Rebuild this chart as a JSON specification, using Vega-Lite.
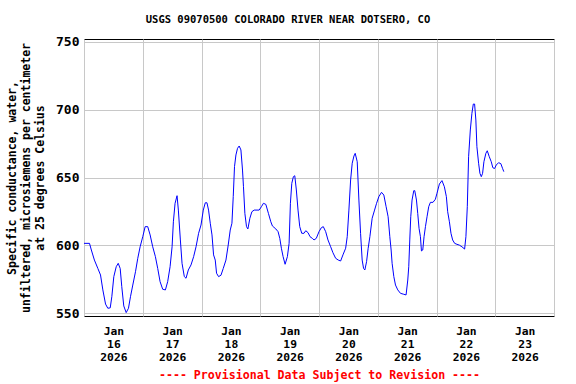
{
  "$schema": "https://vega.github.io/schema/vega-lite/v6.json",
  "width": 470,
  "height": 277,
  "autosize": "none",
  "padding": {"left": 84, "top": 39, "right": 22, "bottom": 68},
  "background": "white",
  "title": {
    "text": "USGS 09070500 COLORADO RIVER NEAR DOTSERO, CO",
    "font": "DejaVu Sans Mono",
    "fontSize": 10.5,
    "fontWeight": "bold",
    "color": "black",
    "anchor": "middle",
    "frame": "group",
    "dx": -31,
    "offset": 10
  },
  "config": {
    "view": {"stroke": "black", "strokeWidth": 1},
    "axis": {
      "labelFont": "DejaVu Sans Mono",
      "titleFont": "DejaVu Sans Mono",
      "labelFontWeight": "bold",
      "titleFontWeight": "bold",
      "labelColor": "black",
      "titleColor": "black",
      "gridColor": "#c8c8c8",
      "gridOpacity": 1,
      "gridWidth": 1,
      "ticks": false,
      "domain": false
    }
  },
  "data": {
    "values": [
      {"t": "2026-01-16T00:00", "v": 601.5},
      {"t": "2026-01-16T02:15", "v": 601.5},
      {"t": "2026-01-16T03:00", "v": 596.6},
      {"t": "2026-01-16T04:15", "v": 589.2},
      {"t": "2026-01-16T05:40", "v": 583.0},
      {"t": "2026-01-16T06:45", "v": 578.2},
      {"t": "2026-01-16T07:42", "v": 567.2},
      {"t": "2026-01-16T08:48", "v": 556.8},
      {"t": "2026-01-16T09:44", "v": 553.7},
      {"t": "2026-01-16T10:43", "v": 554.0},
      {"t": "2026-01-16T11:22", "v": 562.2},
      {"t": "2026-01-16T12:11", "v": 577.0},
      {"t": "2026-01-16T13:10", "v": 584.3},
      {"t": "2026-01-16T13:59", "v": 586.8},
      {"t": "2026-01-16T14:47", "v": 583.0},
      {"t": "2026-01-16T15:26", "v": 569.6},
      {"t": "2026-01-16T16:15", "v": 555.4},
      {"t": "2026-01-16T17:14", "v": 550.5},
      {"t": "2026-01-16T18:10", "v": 553.7},
      {"t": "2026-01-16T18:59", "v": 562.2},
      {"t": "2026-01-16T19:56", "v": 570.8},
      {"t": "2026-01-16T21:02", "v": 580.6},
      {"t": "2026-01-16T21:58", "v": 590.5},
      {"t": "2026-01-16T22:56", "v": 599.0},
      {"t": "2026-01-17T00:00", "v": 606.4},
      {"t": "2026-01-17T00:59", "v": 613.8},
      {"t": "2026-01-17T02:02", "v": 613.8},
      {"t": "2026-01-17T03:01", "v": 607.7},
      {"t": "2026-01-17T04:04", "v": 599.0},
      {"t": "2026-01-17T05:10", "v": 591.7},
      {"t": "2026-01-17T06:07", "v": 583.0},
      {"t": "2026-01-17T07:05", "v": 573.3},
      {"t": "2026-01-17T08:09", "v": 567.7},
      {"t": "2026-01-17T09:15", "v": 567.2},
      {"t": "2026-01-17T10:11", "v": 573.3},
      {"t": "2026-01-17T11:10", "v": 584.3},
      {"t": "2026-01-17T11:59", "v": 599.0},
      {"t": "2026-01-17T12:31", "v": 617.4},
      {"t": "2026-01-17T13:12", "v": 631.0},
      {"t": "2026-01-17T14:01", "v": 636.6},
      {"t": "2026-01-17T14:33", "v": 626.0},
      {"t": "2026-01-17T15:22", "v": 604.0},
      {"t": "2026-01-17T16:03", "v": 586.8},
      {"t": "2026-01-17T16:59", "v": 577.0},
      {"t": "2026-01-17T17:41", "v": 575.8},
      {"t": "2026-01-17T18:37", "v": 581.9},
      {"t": "2026-01-17T19:43", "v": 585.6},
      {"t": "2026-01-17T20:47", "v": 591.7},
      {"t": "2026-01-17T21:46", "v": 599.0},
      {"t": "2026-01-17T22:49", "v": 608.9},
      {"t": "2026-01-17T23:48", "v": 615.0},
      {"t": "2026-01-18T00:44", "v": 626.0},
      {"t": "2026-01-18T01:33", "v": 631.4},
      {"t": "2026-01-18T02:14", "v": 631.4},
      {"t": "2026-01-18T02:53", "v": 626.0},
      {"t": "2026-01-18T03:35", "v": 616.3},
      {"t": "2026-01-18T04:17", "v": 607.7},
      {"t": "2026-01-18T04:56", "v": 593.0},
      {"t": "2026-01-18T05:37", "v": 589.2},
      {"t": "2026-01-18T06:09", "v": 579.5},
      {"t": "2026-01-18T06:58", "v": 577.0},
      {"t": "2026-01-18T07:57", "v": 578.0},
      {"t": "2026-01-18T08:53", "v": 583.0},
      {"t": "2026-01-18T09:59", "v": 589.2},
      {"t": "2026-01-18T10:55", "v": 600.3},
      {"t": "2026-01-18T11:44", "v": 611.3},
      {"t": "2026-01-18T12:26", "v": 616.3},
      {"t": "2026-01-18T12:58", "v": 635.9},
      {"t": "2026-01-18T13:29", "v": 658.0},
      {"t": "2026-01-18T14:04", "v": 666.6},
      {"t": "2026-01-18T14:43", "v": 671.5},
      {"t": "2026-01-18T15:24", "v": 673.2},
      {"t": "2026-01-18T16:06", "v": 670.3},
      {"t": "2026-01-18T16:45", "v": 655.5},
      {"t": "2026-01-18T17:09", "v": 643.2},
      {"t": "2026-01-18T17:43", "v": 623.6},
      {"t": "2026-01-18T18:23", "v": 613.8},
      {"t": "2026-01-18T18:57", "v": 612.1},
      {"t": "2026-01-18T19:46", "v": 620.0},
      {"t": "2026-01-18T20:35", "v": 624.8},
      {"t": "2026-01-18T21:31", "v": 626.0},
      {"t": "2026-01-18T23:33", "v": 626.0},
      {"t": "2026-01-19T00:29", "v": 628.5},
      {"t": "2026-01-19T01:18", "v": 631.0},
      {"t": "2026-01-19T02:17", "v": 630.2},
      {"t": "2026-01-19T03:20", "v": 623.6},
      {"t": "2026-01-19T04:19", "v": 617.4},
      {"t": "2026-01-19T04:58", "v": 614.3},
      {"t": "2026-01-19T06:22", "v": 612.1},
      {"t": "2026-01-19T07:17", "v": 610.1},
      {"t": "2026-01-19T07:59", "v": 605.2},
      {"t": "2026-01-19T08:38", "v": 597.9},
      {"t": "2026-01-19T09:20", "v": 591.7},
      {"t": "2026-01-19T10:09", "v": 586.1},
      {"t": "2026-01-19T11:05", "v": 591.7},
      {"t": "2026-01-19T11:47", "v": 601.5},
      {"t": "2026-01-19T12:19", "v": 631.0},
      {"t": "2026-01-19T12:53", "v": 645.7},
      {"t": "2026-01-19T13:32", "v": 650.6},
      {"t": "2026-01-19T14:06", "v": 651.3},
      {"t": "2026-01-19T14:45", "v": 640.8},
      {"t": "2026-01-19T15:26", "v": 626.0},
      {"t": "2026-01-19T16:08", "v": 613.8},
      {"t": "2026-01-19T16:57", "v": 608.9},
      {"t": "2026-01-19T17:53", "v": 608.9},
      {"t": "2026-01-19T18:35", "v": 610.8},
      {"t": "2026-01-19T19:31", "v": 609.4},
      {"t": "2026-01-19T20:20", "v": 606.4},
      {"t": "2026-01-19T21:16", "v": 605.2},
      {"t": "2026-01-19T21:58", "v": 604.0},
      {"t": "2026-01-19T22:54", "v": 605.2},
      {"t": "2026-01-20T00:00", "v": 610.1},
      {"t": "2026-01-20T00:56", "v": 613.0},
      {"t": "2026-01-20T01:45", "v": 613.8},
      {"t": "2026-01-20T02:44", "v": 610.1},
      {"t": "2026-01-20T03:40", "v": 604.0},
      {"t": "2026-01-20T04:46", "v": 599.0},
      {"t": "2026-01-20T05:42", "v": 594.6},
      {"t": "2026-01-20T06:48", "v": 590.5},
      {"t": "2026-01-20T07:52", "v": 589.2},
      {"t": "2026-01-20T08:50", "v": 588.5},
      {"t": "2026-01-20T09:47", "v": 593.0},
      {"t": "2026-01-20T10:53", "v": 597.9},
      {"t": "2026-01-20T11:32", "v": 606.4},
      {"t": "2026-01-20T12:13", "v": 626.0},
      {"t": "2026-01-20T12:55", "v": 648.2},
      {"t": "2026-01-20T13:34", "v": 660.5},
      {"t": "2026-01-20T14:16", "v": 665.8},
      {"t": "2026-01-20T14:47", "v": 667.8},
      {"t": "2026-01-20T15:37", "v": 661.6},
      {"t": "2026-01-20T16:18", "v": 633.4},
      {"t": "2026-01-20T16:59", "v": 608.9},
      {"t": "2026-01-20T17:38", "v": 589.2},
      {"t": "2026-01-20T18:13", "v": 583.0},
      {"t": "2026-01-20T18:44", "v": 581.9},
      {"t": "2026-01-20T19:26", "v": 588.0},
      {"t": "2026-01-20T20:05", "v": 597.9},
      {"t": "2026-01-20T20:47", "v": 606.4},
      {"t": "2026-01-20T21:43", "v": 620.0},
      {"t": "2026-01-20T22:42", "v": 626.0},
      {"t": "2026-01-20T23:31", "v": 631.0},
      {"t": "2026-01-21T00:27", "v": 635.9},
      {"t": "2026-01-21T01:33", "v": 639.1},
      {"t": "2026-01-21T02:29", "v": 637.1},
      {"t": "2026-01-21T03:25", "v": 628.5},
      {"t": "2026-01-21T04:14", "v": 621.1},
      {"t": "2026-01-21T04:56", "v": 606.4},
      {"t": "2026-01-21T05:28", "v": 596.6},
      {"t": "2026-01-21T05:52", "v": 586.8},
      {"t": "2026-01-21T06:34", "v": 577.0},
      {"t": "2026-01-21T07:15", "v": 570.8},
      {"t": "2026-01-21T08:11", "v": 567.2},
      {"t": "2026-01-21T09:17", "v": 564.7},
      {"t": "2026-01-21T10:38", "v": 564.0},
      {"t": "2026-01-21T11:34", "v": 563.5},
      {"t": "2026-01-21T12:16", "v": 574.5},
      {"t": "2026-01-21T12:40", "v": 584.3},
      {"t": "2026-01-21T13:05", "v": 604.0},
      {"t": "2026-01-21T13:29", "v": 621.1},
      {"t": "2026-01-21T14:01", "v": 633.4},
      {"t": "2026-01-21T14:43", "v": 640.3},
      {"t": "2026-01-21T15:07", "v": 640.3},
      {"t": "2026-01-21T15:49", "v": 633.4},
      {"t": "2026-01-21T16:20", "v": 623.6},
      {"t": "2026-01-21T16:52", "v": 612.6},
      {"t": "2026-01-21T17:26", "v": 606.4},
      {"t": "2026-01-21T17:51", "v": 595.9},
      {"t": "2026-01-21T18:23", "v": 596.6},
      {"t": "2026-01-21T18:55", "v": 606.4},
      {"t": "2026-01-21T19:29", "v": 613.8},
      {"t": "2026-01-21T20:08", "v": 621.1},
      {"t": "2026-01-21T20:49", "v": 628.5},
      {"t": "2026-01-21T21:31", "v": 631.7},
      {"t": "2026-01-21T22:34", "v": 631.7},
      {"t": "2026-01-21T23:33", "v": 634.0},
      {"t": "2026-01-22T00:12", "v": 638.4},
      {"t": "2026-01-22T01:11", "v": 645.2},
      {"t": "2026-01-22T02:14", "v": 647.7},
      {"t": "2026-01-22T03:13", "v": 643.2},
      {"t": "2026-01-22T04:02", "v": 635.9},
      {"t": "2026-01-22T04:34", "v": 624.8},
      {"t": "2026-01-22T05:16", "v": 617.4},
      {"t": "2026-01-22T05:55", "v": 608.9},
      {"t": "2026-01-22T06:36", "v": 604.0},
      {"t": "2026-01-22T07:25", "v": 601.5},
      {"t": "2026-01-22T08:21", "v": 600.8},
      {"t": "2026-01-22T09:20", "v": 600.2},
      {"t": "2026-01-22T10:23", "v": 599.0},
      {"t": "2026-01-22T11:29", "v": 597.3},
      {"t": "2026-01-22T12:01", "v": 606.4},
      {"t": "2026-01-22T12:35", "v": 628.5},
      {"t": "2026-01-22T13:07", "v": 665.3},
      {"t": "2026-01-22T13:49", "v": 685.0},
      {"t": "2026-01-22T14:28", "v": 697.3},
      {"t": "2026-01-22T15:02", "v": 704.1},
      {"t": "2026-01-22T15:34", "v": 704.1},
      {"t": "2026-01-22T16:05", "v": 692.3},
      {"t": "2026-01-22T16:30", "v": 672.7},
      {"t": "2026-01-22T17:12", "v": 660.5},
      {"t": "2026-01-22T17:44", "v": 653.1},
      {"t": "2026-01-22T18:18", "v": 650.6},
      {"t": "2026-01-22T18:50", "v": 653.1},
      {"t": "2026-01-22T19:22", "v": 661.6},
      {"t": "2026-01-22T20:10", "v": 667.8},
      {"t": "2026-01-22T20:44", "v": 669.7},
      {"t": "2026-01-22T21:34", "v": 665.3},
      {"t": "2026-01-22T22:22", "v": 661.6},
      {"t": "2026-01-22T23:01", "v": 657.2},
      {"t": "2026-01-22T23:43", "v": 656.6},
      {"t": "2026-01-23T00:25", "v": 659.2},
      {"t": "2026-01-23T01:21", "v": 660.9},
      {"t": "2026-01-23T02:17", "v": 660.2},
      {"t": "2026-01-23T02:58", "v": 656.8},
      {"t": "2026-01-23T03:30", "v": 654.3}
    ]
  },
  "mark": {"type": "line", "color": "#0000ff", "strokeWidth": 1, "clip": true},
  "encoding": {
    "x": {
      "field": "t",
      "type": "temporal",
      "scale": {
        "domain": [
          {"year": 2026, "month": 1, "date": 16},
          {"year": 2026, "month": 1, "date": 24}
        ],
        "nice": false
      },
      "axis": {
        "tickCount": {"interval": "day", "step": 1},
        "labelExpr": "date(datum.value) == 24 ? '' : [timeFormat(datum.value, '%b'), timeFormat(datum.value, '%d'), timeFormat(datum.value, '%Y')]",
        "labelOffset": 29.4,
        "labelAngle": 0,
        "labelAlign": "center",
        "labelBaseline": "top",
        "labelFontSize": 11.3,
        "labelLineHeight": 13,
        "labelPadding": 9,
        "labelOverlap": false,
        "labelBound": false,
        "labelFlush": false,
        "title": "---- Provisional Data Subject to Revision ----",
        "titleColor": "#ff0000",
        "titleFontSize": 11.6,
        "titlePadding": 7
      }
    },
    "y": {
      "field": "v",
      "type": "quantitative",
      "scale": {"domain": [548, 752], "nice": false, "zero": false},
      "axis": {
        "values": [550, 600, 650, 700, 750],
        "labelFontSize": 13,
        "labelPadding": 5,
        "title": ["Specific conductance, water,", "unfiltered, microsiemens per centimeter", "at 25 degrees Celsius"],
        "titleFontSize": 11.5,
        "titleLineHeight": 14,
        "titlePadding": 10
      }
    }
  }
}
